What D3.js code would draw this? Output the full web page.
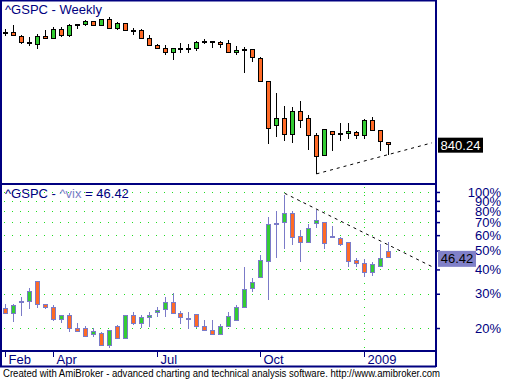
<!DOCTYPE html>
<html>
<head>
<meta charset="utf-8">
<script src="https://cdn.jsdelivr.net/npm/d3@7"></script>
<style>
  body { margin: 0; background: #fff; }
  svg { display: block; font-family: "Liberation Sans", Arial, sans-serif; }
</style>
</head>
<body>
<svg id="chart" width="505" height="381"></svg>
<script>
// ^GSPC weekly bars, 22 Feb 2008 .. 21 Jan 2009
const spxOpen = [1349.99, 1353.11, 1330.45, 1293.16, 1283.21, 1329.51, 1315.22, 1370.40, 1332.20, 1390.33,
  1397.84, 1413.90, 1388.28, 1425.28, 1375.97, 1400.06, 1360.83, 1360.03, 1317.23, 1278.06,
  1262.90, 1239.49, 1261.82, 1257.76, 1260.31, 1296.32, 1298.14, 1292.20, 1287.83, 1242.31,
  1251.70, 1255.37, 1209.07, 1097.56, 912.75, 940.54, 876.77, 968.67, 936.75, 873.23,
  801.20, 888.61, 882.71, 881.07, 884.00, 872.37, 929.17, 890.40, 849.64];
const spxHigh = [1367.94, 1388.34, 1335.13, 1321.68, 1341.51, 1359.68, 1380.91, 1378.66, 1395.90, 1399.09,
  1421.57, 1416.37, 1425.82, 1440.24, 1406.32, 1404.05, 1370.63, 1366.59, 1333.70, 1285.67,
  1278.57, 1262.31, 1290.59, 1284.91, 1297.85, 1313.15, 1298.14, 1300.68, 1303.04, 1274.42,
  1265.12, 1255.37, 1213.00, 1097.56, 1044.31, 985.44, 984.38, 1007.51, 951.17, 882.29,
  896.25, 888.61, 918.57, 918.85, 887.37, 934.73, 943.85, 890.40, 849.64];
const spxLow = [1327.63, 1330.67, 1282.43, 1274.86, 1256.98, 1312.95, 1312.87, 1324.35, 1324.75, 1370.00,
  1384.90, 1382.86, 1386.20, 1373.07, 1364.05, 1359.90, 1331.29, 1317.49, 1272.00, 1257.68,
  1225.35, 1200.44, 1234.35, 1234.71, 1248.59, 1282.20, 1261.99, 1264.48, 1236.39, 1222.68,
  1133.50, 1187.66, 1098.14, 839.80, 865.83, 852.85, 845.27, 899.73, 818.69, 741.02,
  801.20, 815.69, 851.35, 857.72, 857.09, 857.34, 888.31, 817.04, 803.97];
const spxClose = [1353.11, 1330.63, 1293.37, 1288.14, 1329.51, 1315.22, 1370.40, 1332.83, 1390.33, 1397.84,
  1413.90, 1388.28, 1425.35, 1375.93, 1400.38, 1360.68, 1360.03, 1317.93, 1278.38, 1262.90,
  1239.49, 1260.68, 1257.76, 1260.31, 1296.32, 1298.20, 1292.20, 1282.83, 1242.31, 1251.70,
  1255.08, 1213.27, 1099.23, 899.22, 940.55, 876.77, 968.75, 930.99, 873.29, 800.03,
  896.24, 876.07, 879.73, 887.88, 872.80, 931.80, 890.35, 850.12, 840.24];

// ^VIX weekly bars, same weeks
const vixOpen = [25.3, 23.8, 27.1, 27.6, 34.8, 26.6, 25.6, 22.2, 23.2, 19.9,
  19.9, 18.6, 18.9, 16.3, 20.6, 17.7, 23.2, 21.2, 22.7, 24.1,
  25.1, 27.1, 23.8, 22.5, 23.5, 20.4, 19.5, 18.6, 20.4, 21.9,
  25.6, 32.0, 36.4, 44.4, 69.0, 69.9, 77.7, 59.2, 55.1, 69.0,
  69.9, 59.5, 57.8, 55.1, 44.7, 43.0, 38.7, 41.7, 49.6];
const vixHigh = [26.5, 26.5, 29.0, 32.2, 34.8, 26.6, 26.2, 23.2, 23.9, 21.1,
  20.5, 19.9, 19.0, 19.5, 20.7, 23.2, 24.2, 23.2, 24.2, 25.6,
  28.9, 30.2, 24.5, 24.2, 23.5, 21.9, 21.9, 20.9, 24.2, 26.3,
  41.0, 36.0, 47.5, 74.7, 79.9, 96.5, 80.2, 63.8, 68.2, 80.8,
  69.9, 67.1, 58.9, 55.5, 45.6, 45.3, 43.5, 54.1, 55.5];
const vixLow = [23.8, 21.6, 23.1, 25.0, 25.3, 25.0, 21.8, 21.3, 19.1, 19.1,
  18.0, 18.0, 16.3, 15.8, 17.7, 17.7, 20.7, 19.9, 20.2, 22.7,
  22.7, 23.7, 20.9, 19.7, 19.9, 19.4, 18.5, 18.5, 20.3, 21.8,
  25.5, 30.7, 36.0, 28.0, 46.0, 50.8, 53.4, 43.8, 54.5, 65.1,
  50.8, 59.0, 52.8, 41.3, 41.3, 36.7, 37.2, 41.3, 46.0];
const vixClose = [23.8, 26.2, 27.5, 30.9, 26.5, 25.6, 22.2, 23.2, 19.9, 19.4,
  18.1, 19.3, 16.3, 19.5, 17.7, 23.2, 21.2, 22.7, 23.2, 24.7,
  27.1, 23.8, 22.7, 22.4, 20.4, 19.5, 18.6, 20.4, 23.0, 25.6,
  31.6, 34.4, 44.6, 68.8, 69.6, 77.7, 58.9, 55.1, 65.1, 71.8,
  54.5, 59.7, 53.8, 44.4, 43.0, 38.7, 42.5, 45.6, 46.42];

// date axis: bar index of first bar in each labelled month
const monthTickBars = [0, 6, 19, 32, 45];
const monthTickLabels = ["Feb", "Apr", "Jul", "Oct", "2009"];
const yearBreakBar = 45;

const vixTicks = [100, 90, 80, 70, 60, 50, 40, 30, 20];

// hand-drawn trend lines, [bar, value]
const spxTrend = [[39, 741.02], [48, 803.97]];
const vixTrend = [[35, 98.5], [50.4, 47.8]];
const trendEndBar = 53.5;

const svg = d3.select("#chart");
const navy = "#000080";
const upFill = "#33cc33";
const downFill = "#ff6a26";
const vixEdge = "#7b7bc8";
const plotRight = 436;

const x = d3.scaleLinear().domain([0, 48]).range([5.67, 388.2]);
const yTop = d3.scaleLog().domain([710, 1546]).range([184, 0]);
const yVix = d3.scaleLog().domain([15.24, 108.6]).range([351, 185]);

const px = i => Math.floor(x(i)) + 0.5;

// green dotted grid in the lower pane
const grid = svg.append("g");
grid.selectAll("line.h")
  .data(vixTicks)
  .join("line")
  .attr("x1", 4).attr("x2", 434)
  .attr("y1", d => Math.round(yVix(d)) + 0.5)
  .attr("y2", d => Math.round(yVix(d)) + 0.5)
  .attr("stroke", "#22dd22")
  .attr("stroke-dasharray", "1,7");
grid.append("line")
  .attr("x1", px(yearBreakBar)).attr("x2", px(yearBreakBar))
  .attr("y1", 187).attr("y2", 350)
  .attr("stroke", "#22dd22")
  .attr("stroke-dasharray", "1,7");

function drawCandles(open, high, low, close, y, edge) {
  const g = svg.append("g");
  const idx = d3.range(open.length);
  g.selectAll("line")
    .data(idx)
    .join("line")
    .attr("x1", px).attr("x2", px)
    .attr("y1", i => Math.round(y(high[i])))
    .attr("y2", i => Math.round(y(low[i])))
    .attr("stroke", edge);
  g.selectAll("rect")
    .data(idx)
    .join("rect")
    .attr("x", i => px(i) - 2)
    .attr("width", 4)
    .attr("y", i => Math.round(y(Math.max(open[i], close[i]))) + 0.5)
    .attr("height", i => {
      const h = Math.round(y(Math.min(open[i], close[i]))) - Math.round(y(Math.max(open[i], close[i])));
      return Math.max(h, 1);
    })
    .attr("fill", i => (close[i] >= open[i] ? upFill : downFill))
    .attr("stroke", edge);
}

drawCandles(spxOpen, spxHigh, spxLow, spxClose, yTop, "#000");
drawCandles(vixOpen, vixHigh, vixLow, vixClose, yVix, vixEdge);

function trendLine(pts, y) {
  const [a, b] = pts;
  const x1 = x(a[0]), y1 = y(a[1]);
  const x2 = x(b[0]), y2 = y(b[1]);
  const xe = x(trendEndBar);
  const ye = y1 + (y2 - y1) * (xe - x1) / (x2 - x1);
  svg.append("line")
    .attr("x1", x1).attr("y1", y1)
    .attr("x2", xe).attr("y2", ye)
    .attr("stroke", "#000")
    .attr("stroke-dasharray", "3,4");
}
trendLine(spxTrend, yTop);
trendLine(vixTrend, yVix);

// frames
const frame = svg.append("g").attr("stroke", navy).attr("fill", "none");
frame.append("line").attr("x1", 1).attr("x2", 1).attr("y1", 0).attr("y2", 367);
frame.append("line").attr("x1", 0).attr("x2", plotRight + 1).attr("y1", 0.5).attr("y2", 0.5);
frame.append("line").attr("x1", plotRight).attr("x2", plotRight).attr("y1", 0).attr("y2", 367).attr("stroke-width", 2);
frame.append("line").attr("x1", 0).attr("x2", plotRight).attr("y1", 184).attr("y2", 184).attr("stroke-width", 2);
frame.append("line").attr("x1", 0).attr("x2", plotRight).attr("y1", 351).attr("y2", 351).attr("stroke-width", 2);
frame.append("line").attr("x1", 0).attr("x2", plotRight).attr("y1", 366.5).attr("y2", 366.5);
frame.selectAll("line").filter(function () { return !this.getAttribute("stroke-width"); }).attr("stroke-width", 2);

// right axis of the lower pane
const axR = svg.append("g")
  .attr("transform", `translate(${plotRight},0)`)
  .call(d3.axisRight(yVix).tickValues(vixTicks).tickFormat(d => d + "%").tickSize(4).tickSizeOuter(0));
axR.select(".domain").remove();
axR.selectAll("line").attr("stroke", navy).attr("stroke-width", 1.5);
axR.selectAll("text")
  .attr("x", 65)
  .attr("text-anchor", "end")
  .attr("fill", navy)
  .style("font-size", "13px")
  .style("font-family", "'Liberation Sans', Arial, sans-serif");

// date axis
const axB = svg.append("g")
  .attr("transform", "translate(0,351)")
  .call(d3.axisBottom(x).tickValues(monthTickBars).tickFormat((d, i) => monthTickLabels[i]).tickSize(6).tickSizeOuter(0));
axB.select(".domain").remove();
axB.selectAll(".tick").attr("transform", d => `translate(${px(d)},0)`);
axB.selectAll("line").attr("stroke", navy);
axB.selectAll("text")
  .attr("x", 3)
  .attr("y", 4)
  .attr("text-anchor", "start")
  .attr("fill", navy)
  .style("font-size", "13px")
  .style("font-family", "'Liberation Sans', Arial, sans-serif");

// last value labels
const lastSpx = spxClose[spxClose.length - 1];
const lastVix = vixClose[vixClose.length - 1];
const ySpx = yTop(lastSpx);
svg.append("rect").attr("x", 438).attr("y", ySpx - 6.5).attr("width", 45).attr("height", 15).attr("fill", "#000");
svg.append("text").attr("x", 460.5).attr("y", ySpx + 5.5).attr("text-anchor", "middle")
  .attr("fill", "#fff").style("font-size", "13px").text(lastSpx.toFixed(2));
const yV = yVix(lastVix);
svg.append("rect").attr("x", 438).attr("y", yV - 6).attr("width", 38).attr("height", 16).attr("fill", "#8080c8");
svg.append("text").attr("x", 457).attr("y", yV + 6.5).attr("text-anchor", "middle")
  .attr("fill", "#000").style("font-size", "13px").text(lastVix.toFixed(2));

// titles
svg.append("text").attr("x", 5).attr("y", 14).attr("fill", navy).style("font-size", "13px").text("^GSPC - Weekly");
const t2 = svg.append("text").attr("x", 5).attr("y", 198).style("font-size", "13px");
t2.append("tspan").attr("fill", navy).text("^GSPC - ");
t2.append("tspan").attr("fill", "#8080c8").text("^vix");
t2.append("tspan").attr("fill", navy).text(" = " + lastVix.toFixed(2));

// footer
svg.append("text")
  .attr("x", 3).attr("y", 377)
  .attr("textLength", 437).attr("lengthAdjust", "spacingAndGlyphs")
  .attr("fill", "#000")
  .style("font-size", "10px")
  .text("Created with AmiBroker - advanced charting and technical analysis software. http://www.amibroker.com");
</script>
</body>
</html>
